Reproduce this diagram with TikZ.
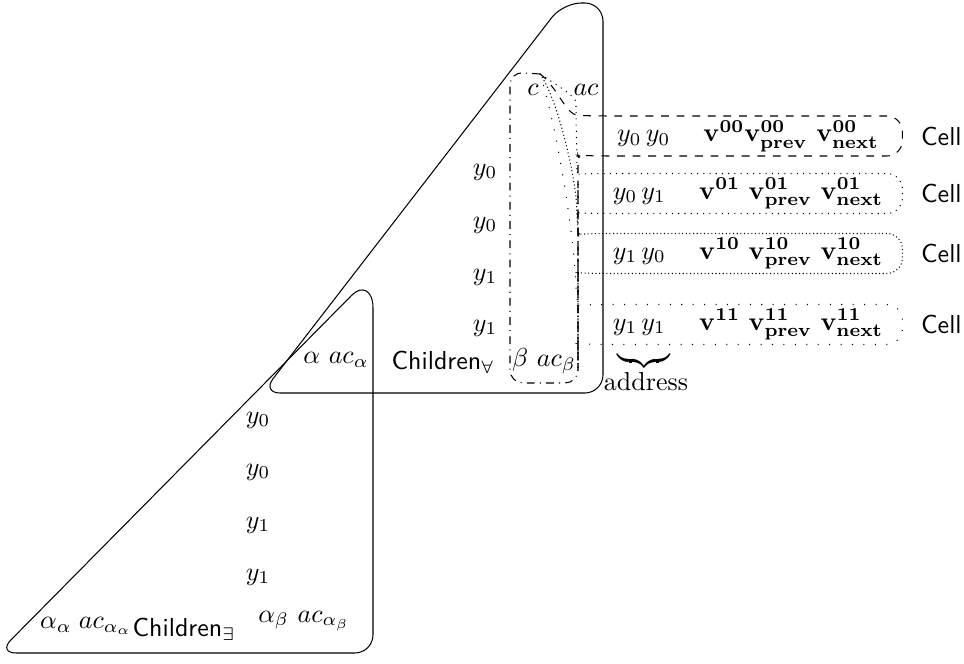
\documentclass[tikz,border=0pt]{standalone}
\usepackage{amsmath}
\usetikzlibrary{positioning}

\tikzset{
  celltext/.style={minimum width=118.5pt, minimum height=15pt, inner sep=0pt},
  cellname/.style={font=\sffamily, inner sep=0pt},
  cellbox/.style={rounded corners=6pt},
}

\begin{document}
\begin{tikzpicture}[x=0.385pt, y=0.385pt]
    \useasboundingbox (0,0) rectangle (964,663);

    % 1. 二つの三角形（外枠）
    \draw[rounded corners=7pt] (400,270) -- (603,270) -- (603,660)
        -- (563,660) -- (262,270) -- cycle;
    \draw[rounded corners=7pt] (352,368) -- (-2,10) -- (373,10) -- (373,355);
    \draw (373,355) .. controls (373,373) and (362,378) .. (352,368);

    % 2. 上の三角形のラベル
    \node (c) at (533,573) {$c$};
    \node (ac) at (586,573) {$ac$};
    \foreach \i/\y/\lab in {a/491/y_0, b/438/y_0, c/386/y_1, d/335/y_1}
        \node (up\i) at (485,\y) {$\lab$};
    \node (alpha) at (336,303) {$\alpha\ ac_\alpha$};
    \node (chA) at (443,301) {$\textsf{Children}_\forall$};
    \node (beta) at (544,302) {$\beta\ ac_\beta$};

    % 3. 下の三角形のラベル
    \foreach \i/\y/\lab in {a/243/y_0, b/191/y_0, c/138/y_1, d/86/y_1}
        \node (lo\i) at (258,\y) {$\lab$};
    \node (aa) at (86,37) {$\alpha_\alpha\;ac_{\alpha_\alpha}$};
    \node (chE) at (184,34) {$\textsf{Children}_\exists$};
    \node (ab) at (304,42) {$\alpha_\beta\ ac_{\alpha_\beta}$};

    % 4. セル
    \node[celltext] (cell00) at (748,527)
        {$y_0\,y_0\quad\;\mathbf{v^{00}v^{00}_{prev}\ v^{00}_{next}}$};
    \node[celltext] (cell01) at (748,469.5)
        {$y_0\,y_1\quad\;\mathbf{v^{01}\ v^{01}_{prev}\ v^{01}_{next}}$};
    \node[celltext] (cell10) at (748,409.5)
        {$y_1\,y_0\quad\;\mathbf{v^{10}\ v^{10}_{prev}\ v^{10}_{next}}$};
    \node[celltext] (cell11) at (748,338.5)
        {$y_1\,y_1\quad\;\mathbf{v^{11}\ v^{11}_{prev}\ v^{11}_{next}}$};
    \foreach \k in {00,01,10,11}
        \node[cellname, right=7pt of cell\k] (name\k) {Cell};

    % 5. c の列と各セルへのポインタ
    \coordinate (ctop) at (540,589);
    \draw[dashdotted, rounded corners=5pt] (ctop) -- (510,591) -- (510,280)
        -- (578,280) -- (578,480);
    \draw[dashed, cellbox] (ctop)
        .. controls (556,578) and (566,548) .. (cell00.north west)
        -- (cell00.north east) -- (cell00.south east) -- (cell00.south west)
        .. controls (582,507.5) and (578,503) .. (578,492) -- (578,295);
    \draw[dotted, cellbox] (ctop)
        .. controls (560,576) and (576,566) .. (576,545) -- (577,505)
        .. controls (577,494) and (582,489) .. (cell01.north west)
        -- (cell01.north east) -- (cell01.south east) -- (cell01.south west)
        .. controls (582,450) and (578,446) .. (578,436) -- (578,295);
    \draw[densely dotted, cellbox] (ctop)
        .. controls (560,560) and (576,480) .. (577,442)
        .. controls (578,432) and (584,429) .. (cell10.north west)
        -- (cell10.north east) -- (cell10.south east) -- (cell10.south west)
        .. controls (582,390) and (578,386) .. (578,376) -- (578,295);
    \draw[loosely dotted, cellbox] (ctop)
        .. controls (556,540) and (572,440) .. (576,375)
        .. controls (577,364) and (582,358) .. (cell11.north west)
        -- (cell11.north east) -- (cell11.south east) -- (cell11.south west)
        .. controls (582,319) and (578,315) .. (578,305) -- (578,295);

    % 6. アドレスの括弧
    \node[inner sep=0pt] (brace) at (644,302) {$\underbrace{\hphantom{y_1\,y_1}}$};
    \node (addr) at (646,281) {address};
\end{tikzpicture}
\end{document}
